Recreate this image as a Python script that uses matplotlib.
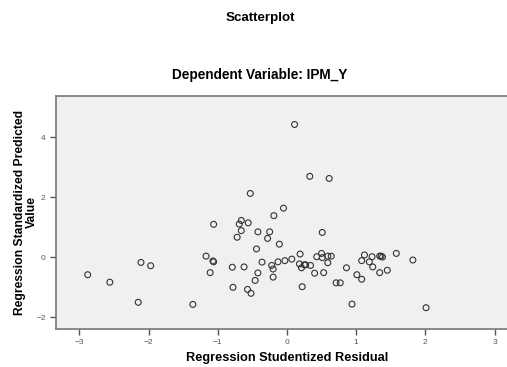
import matplotlib.pyplot as plt

plt.rcParams['font.family'] = ['Liberation Sans', 'DejaVu Sans']

# studentized residual (x) vs standardized predicted value (y)
resid = [-2.88, -2.56, -2.15, -2.11, -1.97, -1.36, -1.06, -1.17, -1.07, -1.06,
         -1.11, -0.79, -0.78, -0.62, -0.57, -0.52, -0.46, -0.42, -0.36, -0.44,
         -0.72, -0.66, -0.69, -0.66, -0.56, -0.53, -0.42, -0.28, -0.25, -0.11,
         -0.19, -0.05, 0.11, -0.22, -0.20, -0.20, -0.13, -0.03, 0.07,
         0.19, 0.18, 0.21, 0.25, 0.27, 0.34, 0.40, 0.22, 0.33, 0.61,
         0.51, 0.43, 0.50, 0.51, 0.59, 0.64, 0.59, 0.53, 0.71, 0.77,
         0.86, 0.94, 1.01, 1.08, 1.08, 1.12, 1.19, 1.23, 1.24, 1.34,
         1.36, 1.38, 1.34, 1.45, 1.58, 1.82, 2.01]
pred = [-0.59, -0.84, -1.51, -0.18, -0.29, -1.58, 1.09, 0.03, -0.13, -0.16,
        -0.52, -0.34, -1.01, -0.33, -1.08, -1.21, -0.78, -0.53, -0.17, 0.27,
        0.66, 0.88, 1.10, 1.22, 1.14, 2.12, 0.84, 0.62, 0.84, 0.43,
        1.38, 1.63, 4.42, -0.28, -0.40, -0.67, -0.16, -0.12, -0.07,
        0.10, -0.23, -0.36, -0.26, -0.26, -0.28, -0.54, -0.99, 2.69, 2.62,
        0.82, 0.01, 0.12, -0.02, 0.03, 0.03, -0.19, -0.52, -0.86, -0.86,
        -0.36, -1.57, -0.59, -0.74, -0.12, 0.07, -0.16, 0.01, -0.33, 0.03,
        0.03, 0.00, -0.52, -0.44, 0.12, -0.10, -1.69]

xticks = [-3, -2, -1, 0, 1, 2, 3]
yticks = [-2, 0, 2, 4]

fig = plt.figure(figsize=(5.07, 3.67), dpi=100)
ax = fig.add_axes([56/507, 1 - 329/367, 1 - 56/507, (329 - 96)/367])
ax.set_facecolor('#f0f0f0')

ax.scatter(resid, pred, s=18, facecolors='none', edgecolors='#333333', linewidths=0.8)

ax.set_xlim(-3.338, 3.18)
ax.set_ylim(-2.4, 5.37)
ax.set_xticks(xticks)
ax.set_yticks(yticks)
ax.tick_params(labelsize=6, colors='#555555', length=4, width=1)

for s in ['left', 'bottom', 'top']:
    ax.spines[s].set_color('#777777')
    ax.spines[s].set_linewidth(1.2)
ax.spines['right'].set_visible(False)

ax.set_xlabel('Regression Studentized Residual', fontsize=9.2, fontweight='bold', va='center')
ax.xaxis.set_label_coords(0.512, -0.1245)
ax.set_ylabel('Regression Standardized Predicted\nValue', fontsize=8.7, fontweight='bold',
              linespacing=1.0, va='center')
ax.yaxis.set_label_coords(-0.0665, 0.5)

fig.text(260/507, 1 - 18/367, 'Scatterplot', ha='center', va='center',
         fontsize=9.6, fontweight='bold')
fig.text(260/507, 1 - 75/367, 'Dependent Variable: IPM_Y', ha='center', va='center',
         fontsize=9.8, fontweight='bold')

fig.savefig('out.png', dpi=100)
